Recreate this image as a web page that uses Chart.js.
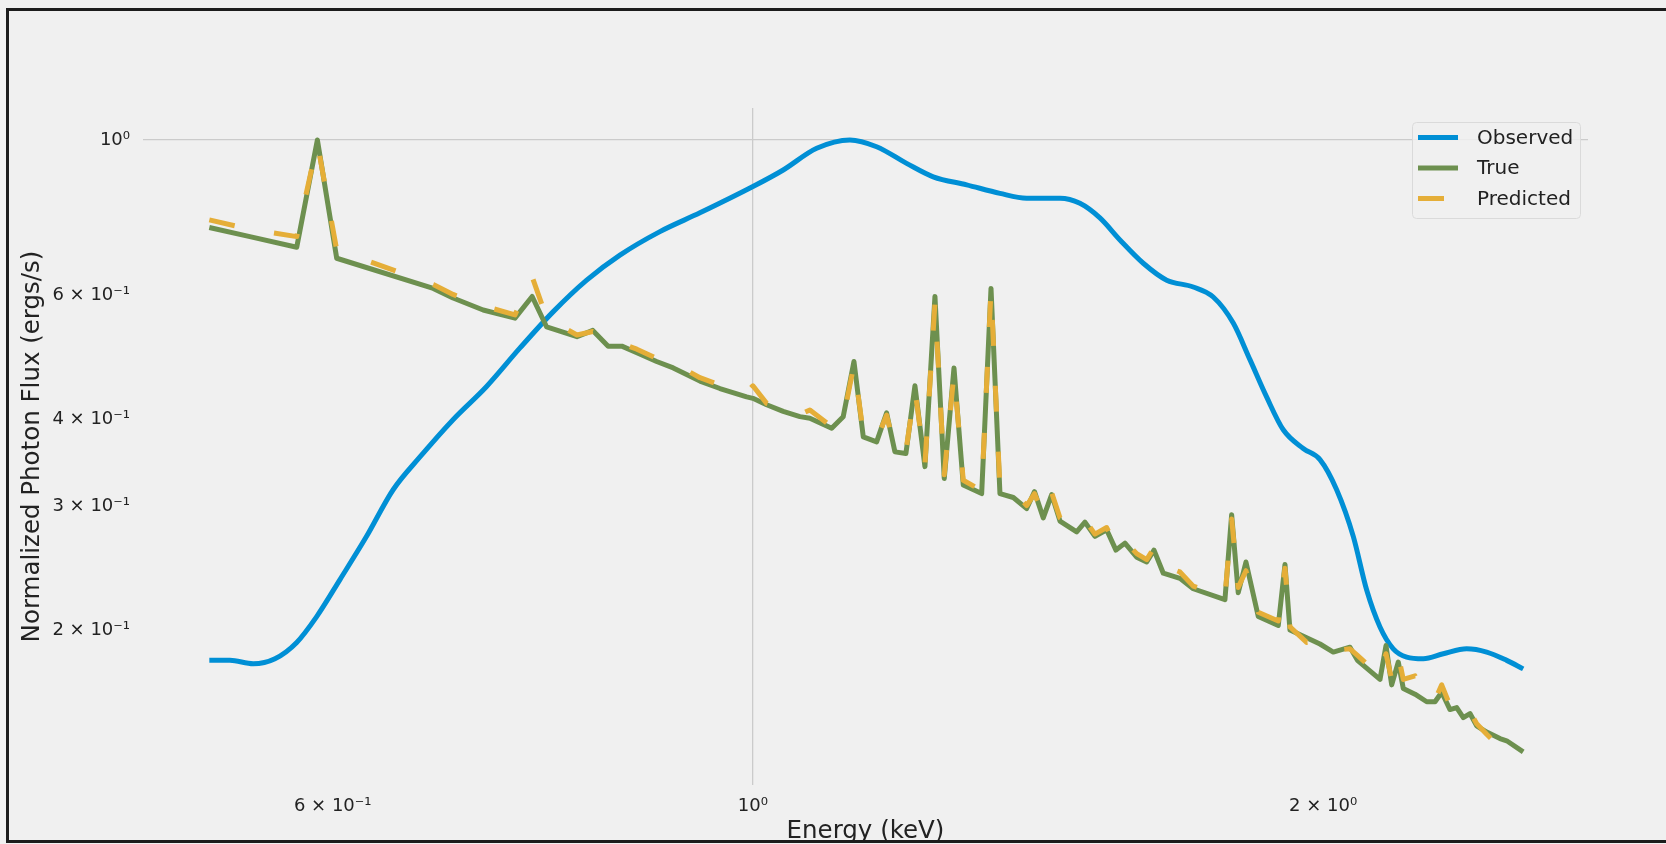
<!DOCTYPE html>
<html>
<head>
<meta charset="utf-8">
<script src="https://cdn.jsdelivr.net/npm/chart.js@4.4.1/dist/chart.umd.min.js"></script>
<style>
  html, body { margin: 0; padding: 0; background: #f0f0f0; width: 1666px; height: 844px; overflow: hidden; }
  #wrap { position: absolute; left: 0; top: 0; width: 1666px; height: 844px; }
  #frame { position: absolute; left: 6px; top: 8px; width: 1700px; height: 829px; border: 3px solid #1c1c1c; border-right: none; pointer-events: none; }
</style>
</head>
<body>
<div id="wrap"><canvas id="chart" width="1666" height="844"></canvas></div>
<div id="frame"></div>
<script>
// Observed spectrum (smooth, instrument-folded)
const obsEnergy = [0.5164, 0.5295, 0.5447, 0.5593, 0.5743, 0.5884, 0.6053, 0.6252, 0.6457, 0.6671,
    0.6945, 0.7234, 0.7534, 0.7845, 0.8170, 0.8507, 0.8931, 0.9376, 1.0, 1.0375,
    1.0806, 1.1251, 1.1623, 1.2054, 1.2451, 1.2967, 1.3503, 1.3949, 1.4525, 1.4882,
    1.5248, 1.5624, 1.6073, 1.6537, 1.7080, 1.7500, 1.7931, 1.8299, 1.8673, 1.9055,
    1.9524, 1.9925, 2.0333, 2.0748, 2.1089, 2.1433, 2.1782, 2.2140, 2.2592, 2.3148,
    2.3815, 2.4402, 2.5002, 2.5509];
const obsFlux = [0.181, 0.181, 0.179, 0.182, 0.192, 0.209, 0.236, 0.272, 0.317, 0.353,
    0.399, 0.445, 0.505, 0.569, 0.631, 0.685, 0.740, 0.787, 0.858, 0.906,
    0.973, 1.0, 0.978, 0.926, 0.886, 0.863, 0.839, 0.826, 0.826, 0.812,
    0.774, 0.720, 0.667, 0.631, 0.617, 0.597, 0.548, 0.486, 0.430, 0.386,
    0.363, 0.350, 0.317, 0.272, 0.228, 0.202, 0.188, 0.183, 0.182, 0.185,
    0.188, 0.186, 0.181, 0.176];

// True and predicted spectra share one energy grid
const lineEnergy = [0.5164, 0.5425, 0.5743, 0.5889, 0.6029, 0.6780, 0.6945, 0.7204, 0.7488, 0.7646,
    0.7782, 0.8074, 0.8231, 0.8386, 0.8527, 0.8684, 0.8895, 0.9077, 0.9376, 0.9607,
    0.9924, 1.0000, 1.0168, 1.0375, 1.0588, 1.0717, 1.1005, 1.1160, 1.1307, 1.1436,
    1.1623, 1.1765, 1.1884, 1.2044, 1.2177, 1.2326, 1.2477, 1.2619, 1.2769, 1.2914,
    1.3206, 1.3357, 1.3503, 1.3724, 1.3949, 1.4082, 1.4233, 1.4379, 1.4525, 1.4823,
    1.4973, 1.5156, 1.5373, 1.5548, 1.5719, 1.5945, 1.6140, 1.6284, 1.6469, 1.6806,
    1.7080, 1.7751, 1.7896, 1.8040, 1.8210, 1.8485, 1.8940, 1.9095, 1.9211, 1.9605,
    1.9925, 2.0250, 2.0665, 2.0854, 2.1433, 2.1590, 2.1740, 2.1915, 2.2049, 2.2365,
    2.2686, 2.2916, 2.3103, 2.3337, 2.3528, 2.3717, 2.3911, 2.4107, 2.4402, 2.4799,
    2.5002, 2.5509];
const trueFlux = [0.750, 0.728, 0.703, 1.000, 0.678, 0.614, 0.595, 0.572, 0.557, 0.598,
    0.541, 0.524, 0.535, 0.508, 0.508, 0.497, 0.483, 0.473, 0.453, 0.442,
    0.430, 0.428, 0.419, 0.410, 0.403, 0.401, 0.388, 0.403, 0.483, 0.377,
    0.371, 0.408, 0.359, 0.357, 0.446, 0.342, 0.598, 0.329, 0.473, 0.322,
    0.313, 0.614, 0.313, 0.309, 0.298, 0.315, 0.289, 0.312, 0.286, 0.276,
    0.285, 0.272, 0.278, 0.260, 0.266, 0.254, 0.250, 0.260, 0.241, 0.237,
    0.229, 0.221, 0.292, 0.226, 0.250, 0.209, 0.203, 0.248, 0.200, 0.195,
    0.191, 0.186, 0.189, 0.181, 0.170, 0.190, 0.167, 0.180, 0.165, 0.162,
    0.158, 0.158, 0.163, 0.154, 0.155, 0.150, 0.152, 0.146, 0.143, 0.140,
    0.139, 0.134];
const predFlux = [0.769, 0.746, 0.728, 0.990, 0.697, 0.622, 0.602, 0.580, 0.563, 0.638,
    0.557, 0.527, 0.533, 0.522, 0.512, 0.503, 0.488, 0.481, 0.458, 0.447,
    0.437, 0.446, 0.421, 0.413, 0.406, 0.412, 0.390, 0.400, 0.478, 0.382,
    0.374, 0.405, 0.362, 0.360, 0.440, 0.345, 0.585, 0.333, 0.465, 0.327,
    0.316, 0.610, 0.318, 0.315, 0.301, 0.313, 0.292, 0.314, 0.289, 0.279,
    0.287, 0.274, 0.280, 0.263, 0.268, 0.257, 0.252, 0.262, 0.247, 0.242,
    0.231, 0.223, 0.288, 0.230, 0.243, 0.212, 0.206, 0.245, 0.202, 0.192,
    0.193, 0.187, 0.188, 0.184, 0.172, 0.185, 0.170, 0.184, 0.170, 0.172,
    0.160, 0.159, 0.167, 0.156, 0.156, 0.151, 0.153, 0.147, 0.142, 0.136,
    0.135, 0.133];

// Axis ticks and ranges
const xTicks = [0.6, 1, 2];
const yTicks = [0.2, 0.3, 0.4, 0.6, 1];
const tickText = {
    0.2: '2 × 10⁻¹', 0.3: '3 × 10⁻¹', 0.4: '4 × 10⁻¹', 0.6: '6 × 10⁻¹',
    1: '10⁰', 2: '2 × 10⁰'
};
const xMin = 0.4764, xMax = 2.760;
const yMin = 0.1202, yMax = 1.1106;

const FONT = 'DejaVu Sans';
const TEXT = '#222222';

function points(xs, ys) {
    return xs.map((x, i) => ({ x: x, y: ys[i] }));
}

// Only the 10^0 lines get a grid line, like the source plot
function gridColor(ctx) {
    return ctx.tick && ctx.tick.value === 1 ? '#cbcbcb' : 'rgba(0,0,0,0)';
}

// Framed legend in the top right corner of the plot area
const boxLegend = {
    id: 'boxLegend',
    afterDatasetsDraw(chart) {
        const { ctx, chartArea } = chart;
        const w = 168, h = 96;
        const x0 = chartArea.right - 8 - w;
        const y0 = chartArea.top + 14;
        ctx.save();
        ctx.fillStyle = 'rgba(240,240,240,0.85)';
        ctx.strokeStyle = '#dadada';
        ctx.lineWidth = 1;
        ctx.beginPath();
        ctx.roundRect(x0 + 0.5, y0 + 0.5, w, h, 4);
        ctx.fill();
        ctx.stroke();
        ctx.font = '20px "' + FONT + '"';
        ctx.textBaseline = 'middle';
        chart.data.datasets.forEach((ds, i) => {
            const y = y0 + 15.5 + i * 30.5;
            ctx.strokeStyle = ds.borderColor;
            ctx.lineWidth = ds.borderWidth;
            ctx.lineCap = 'butt';
            ctx.setLineDash(ds.borderDash || []);
            ctx.beginPath();
            ctx.moveTo(x0 + 6, y);
            ctx.lineTo(x0 + 46, y);
            ctx.stroke();
            ctx.setLineDash([]);
            ctx.fillStyle = TEXT;
            ctx.fillText(ds.label, x0 + 65, y + 1);
        });
        ctx.restore();
    }
};

new Chart(document.getElementById('chart'), {
    type: 'line',
    data: {
        datasets: [
            {
                label: 'Observed',
                data: points(obsEnergy, obsFlux),
                borderColor: '#008fd5',
                borderWidth: 5,
                cubicInterpolationMode: 'monotone',
                order: 2
            },
            {
                label: 'True',
                data: points(lineEnergy, trueFlux),
                borderColor: '#6d904f',
                borderWidth: 5,
                order: 1
            },
            {
                label: 'Predicted',
                data: points(lineEnergy, predFlux),
                borderColor: '#e5ae38',
                borderWidth: 5,
                borderDash: [26, 40],
                order: 0
            }
        ]
    },
    options: {
        responsive: false,
        animation: false,
        layout: { padding: { top: 108, right: 78, left: 0, bottom: 0 } },
        elements: {
            point: { radius: 0 },
            line: { borderJoinStyle: 'round', borderCapStyle: 'butt', tension: 0 }
        },
        plugins: {
            legend: { display: false },
            tooltip: { enabled: false }
        },
        scales: {
            x: {
                type: 'logarithmic',
                min: xMin,
                max: xMax,
                afterBuildTicks: s => { s.ticks = xTicks.map(v => ({ value: v })); },
                afterFit: s => { s.height = 59; },
                grid: { color: gridColor, lineWidth: 1.3, drawTicks: false },
                border: { display: false },
                ticks: {
                    autoSkip: false,
                    maxRotation: 0,
                    padding: 11,
                    color: TEXT,
                    font: { family: FONT, size: 18 },
                    callback: v => tickText[v]
                },
                title: {
                    display: true,
                    text: 'Energy (keV)',
                    color: TEXT,
                    font: { family: FONT, size: 24.5, lineHeight: 1 },
                    padding: 0
                }
            },
            y: {
                type: 'logarithmic',
                min: yMin,
                max: yMax,
                afterBuildTicks: s => { s.ticks = yTicks.map(v => ({ value: v })); },
                afterFit: s => { s.width = 143; },
                grid: { color: gridColor, lineWidth: 1.3, drawTicks: false },
                border: { display: false },
                ticks: {
                    autoSkip: false,
                    padding: 13,
                    color: TEXT,
                    font: { family: FONT, size: 18 },
                    callback: v => tickText[v]
                },
                title: {
                    display: true,
                    text: 'Normalized Photon Flux (ergs/s)',
                    color: TEXT,
                    font: { family: FONT, size: 24.5, lineHeight: 1 },
                    padding: { top: 20, bottom: 0 }
                }
            }
        }
    },
    plugins: [boxLegend]
});
</script>
</body>
</html>
